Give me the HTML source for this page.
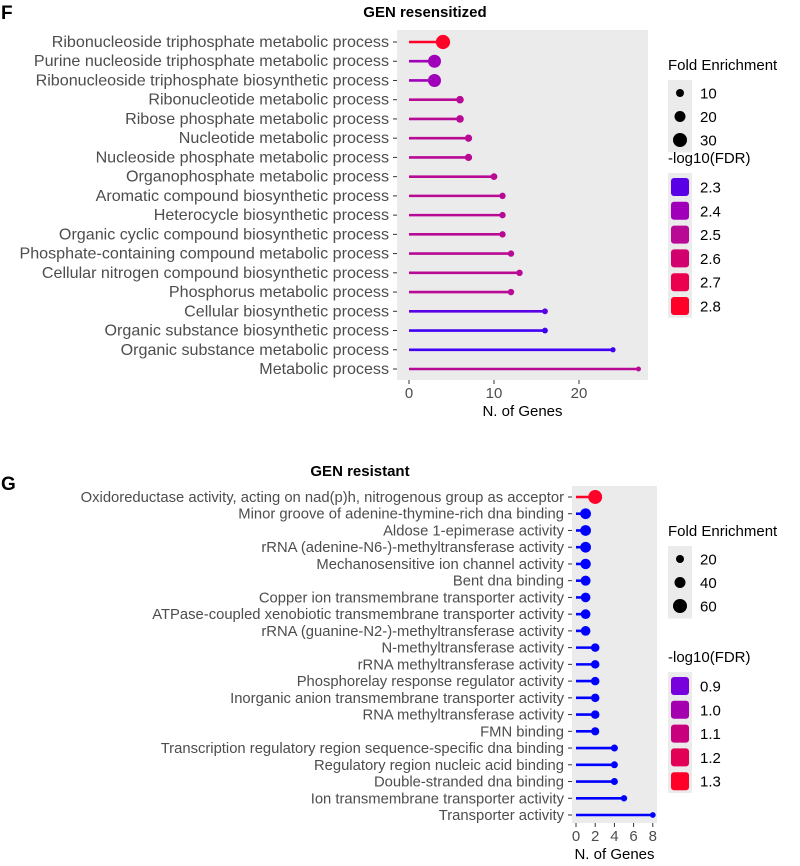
<!DOCTYPE html>
<html><head><meta charset="utf-8"><style>
html,body{margin:0;padding:0;background:#fff;}
svg{display:block;font-family:"Liberation Sans",Arial,sans-serif;}
</style></head><body>
<svg id="c" width="800" height="866" viewBox="0 0 800 866" xmlns="http://www.w3.org/2000/svg">
<text x="1" y="19" font-size="19" font-weight="bold">F</text>
<text x="1" y="490" font-size="19" font-weight="bold">G</text>
</svg>
<script>
// Panel F data
const fTerms=["Ribonucleoside triphosphate metabolic process","Purine nucleoside triphosphate metabolic process","Ribonucleoside triphosphate biosynthetic process","Ribonucleotide metabolic process","Ribose phosphate metabolic process","Nucleotide metabolic process","Nucleoside phosphate metabolic process","Organophosphate metabolic process","Aromatic compound biosynthetic process","Heterocycle biosynthetic process","Organic cyclic compound biosynthetic process","Phosphate-containing compound metabolic process","Cellular nitrogen compound biosynthetic process","Phosphorus metabolic process","Cellular biosynthetic process","Organic substance biosynthetic process","Organic substance metabolic process","Metabolic process"];
const fGenes=[4,3,3,6,6,7,7,10,11,11,11,12,13,12,16,16,24,27];
const fFold=[34,30,30,12,12,11,11,9,8,8,8,8,8,8,6,6,4,3];
const fFdr=[2.8,2.4,2.4,2.5,2.5,2.5,2.5,2.5,2.5,2.5,2.5,2.5,2.5,2.5,2.3,2.25,2.25,2.5];
const fXTicks=[0,10,20];
const fSizeLegend=[10,20,30];
const fColorLegend=[2.3,2.4,2.5,2.6,2.7,2.8];
// Panel G data
const gTerms=["Oxidoreductase activity, acting on nad(p)h, nitrogenous group as acceptor","Minor groove of adenine-thymine-rich dna binding","Aldose 1-epimerase activity","rRNA (adenine-N6-)-methyltransferase activity","Mechanosensitive ion channel activity","Bent dna binding","Copper ion transmembrane transporter activity","ATPase-coupled xenobiotic transmembrane transporter activity","rRNA (guanine-N2-)-methyltransferase activity","N-methyltransferase activity","rRNA methyltransferase activity","Phosphorelay response regulator activity","Inorganic anion transmembrane transporter activity","RNA methyltransferase activity","FMN binding","Transcription regulatory region sequence-specific dna binding","Regulatory region nucleic acid binding","Double-stranded dna binding","Ion transmembrane transporter activity","Transporter activity"];
const gGenes=[2,1,1,1,1,1,1,1,1,2,2,2,2,2,2,4,4,4,5,8];
const gFold=[66,45,45,45,43,40,38,38,38,30,30,30,30,30,28,20,20,20,16,12];
const gFdr=[1.3,0.85,0.85,0.85,0.85,0.85,0.85,0.85,0.85,0.85,0.85,0.85,0.85,0.85,0.85,0.85,0.85,0.85,0.85,0.85];
const gXTicks=[0,2,4,6,8];
const gSizeLegend=[20,40,60];
const gColorLegend=[0.9,1.0,1.1,1.2,1.3];

const svg=document.getElementById('c');
const NS="http://www.w3.org/2000/svg";
function mk(tag,attrs,parent){const e=document.createElementNS(NS,tag);for(const k in attrs)e.setAttribute(k,attrs[k]);(parent||svg).appendChild(e);return e;}
function lerp(a,b,t){return a+(b-a)*t;}
function colorF(v){
  const stops=[[2.2,[40,0,255]],[2.3,[90,0,230]],[2.4,[160,0,185]],[2.5,[185,10,150]],[2.6,[210,0,110]],[2.7,[235,0,80]],[2.8,[255,0,40]]];
  return interp(stops,v);}
function colorG(v){
  const stops=[[0.85,[0,0,255]],[0.9,[120,0,220]],[1.0,[165,0,175]],[1.1,[200,0,125]],[1.2,[225,0,85]],[1.3,[255,0,40]]];
  return interp(stops,v);}
function interp(stops,v){
  if(v<=stops[0][0])return rgb(stops[0][1]);
  for(let i=1;i<stops.length;i++){if(v<=stops[i][0]){const t=(v-stops[i-1][0])/(stops[i][0]-stops[i-1][0]);const a=stops[i-1][1],b=stops[i][1];return rgb([lerp(a[0],b[0],t),lerp(a[1],b[1],t),lerp(a[2],b[2],t)]);}}
  return rgb(stops[stops.length-1][1]);}
function rgb(c){return `rgb(${Math.round(c[0])},${Math.round(c[1])},${Math.round(c[2])})`;}

function panel(o){
  const g=mk('g',{});
  
  
  const bg=mk('rect',{x:o.px0,y:o.py0,width:o.px1-o.px0,height:o.py1-o.py0,fill:'#ebebeb'},g);
  
  
  const xs=v=>o.x0+v*o.ppu;
  const n=o.terms.length;
  const ys=i=>o.y0+i*(o.y1-o.y0)/(n-1);
  const t=mk('text',{x:o.titleX,y:o.titleY,'font-size':15,'font-weight':'bold','text-anchor':'middle',fill:'#000'},g);
  t.textContent=o.title;
  
  
  o.terms.forEach((term,i)=>{
    const y=ys(i);
    const lb=mk('text',{x:o.px0-8,y:y+5,'font-size':o.labelSize,'text-anchor':'end',fill:'#4d4d4d'},g);
    lb.textContent=term;
    
    
    mk('line',{x1:o.px0-4,x2:o.px0,y1:y,y2:y,stroke:'#333','stroke-width':1},g);
    const col=o.color(o.fdr[i]);
    const ln=mk('line',{x1:xs(0),x2:xs(o.genes[i]),y1:y,y2:y,stroke:col,'stroke-width':2.6},g);
    
    
    const c=mk('circle',{cx:xs(o.genes[i]),cy:y,r:o.rad(o.fold[i]),fill:col},g);
    
    
  });
  o.ticks.forEach(v=>{
    mk('line',{x1:xs(v),x2:xs(v),y1:o.py1,y2:o.py1+4,stroke:'#333'},g);
    const tx=mk('text',{x:xs(v),y:o.py1+18,'font-size':15,'text-anchor':'middle',fill:'#4d4d4d'},g);
    tx.textContent=v;
    
    
  });
  const xt=mk('text',{x:(o.px0+o.px1)/2,y:o.py1+36,'font-size':15,'text-anchor':'middle',fill:'#000'},g);
  xt.textContent='N. of Genes';
  
  
  const lx=668;
  const st=mk('text',{x:lx,y:o.sizeTitleY,'font-size':15,fill:'#000'},g);
  st.textContent='Fold Enrichment';
  
  
  mk('rect',{x:lx,y:o.sizeTitleY+10,width:24,height:o.sizeLeg.length*23.5+2,fill:'#ebebeb'},g);
  o.sizeLeg.forEach((v,i)=>{
    const yy=o.sizeTitleY+23+i*23.5;
    const c=mk('circle',{cx:lx+12,cy:yy,r:o.rad(v)+0.5,fill:'#000'},g);
    
    
    const tx=mk('text',{x:lx+32,y:yy+5.5,'font-size':15,fill:'#000'},g);
    tx.textContent=v;
    
    
  });
  const ct=mk('text',{x:lx,y:o.colTitleY,'font-size':15,fill:'#000'},g);
  ct.textContent='-log10(FDR)';
  
  
  mk('rect',{x:lx,y:o.colTitleY+10,width:24,height:o.colLeg.length*23.8+2,fill:'#ebebeb'},g);
  o.colLeg.forEach((v,i)=>{
    const yy=o.colTitleY+24+i*23.8;
    const r=mk('rect',{x:lx+3,y:yy-9,width:18,height:18,rx:3,fill:o.color(v)},g);
    
    
    const tx=mk('text',{x:lx+32,y:yy+5.5,'font-size':15,fill:'#000'},g);
    tx.textContent=v.toFixed(1);
    
    
  });
}
panel({name:'panel-f-chart',title:'GEN resensitized',titleX:425,titleY:17,labelSize:16.1,terms:fTerms,genes:fGenes,fold:fFold,fdr:fFdr,
  px0:397,px1:648,py0:30,py1:380,x0:409,ppu:8.5,y0:42,y1:369,ticks:fXTicks,
  color:colorF,rad:f=>2+f*0.15,sizeLeg:fSizeLegend,colLeg:fColorLegend,sizeTitleY:70,colTitleY:163});
panel({name:'panel-g-chart',title:'GEN resistant',titleX:360,titleY:476,labelSize:14.8,terms:gTerms,genes:gGenes,fold:gFold,fdr:gFdr,
  px0:572,px1:657,py0:486,py1:823,x0:576,ppu:9.6,y0:497,y1:815,ticks:gXTicks,
  color:colorG,rad:f=>2+f*0.075,sizeLeg:gSizeLegend,colLeg:gColorLegend,sizeTitleY:536,colTitleY:662});
</script>
</body></html>
